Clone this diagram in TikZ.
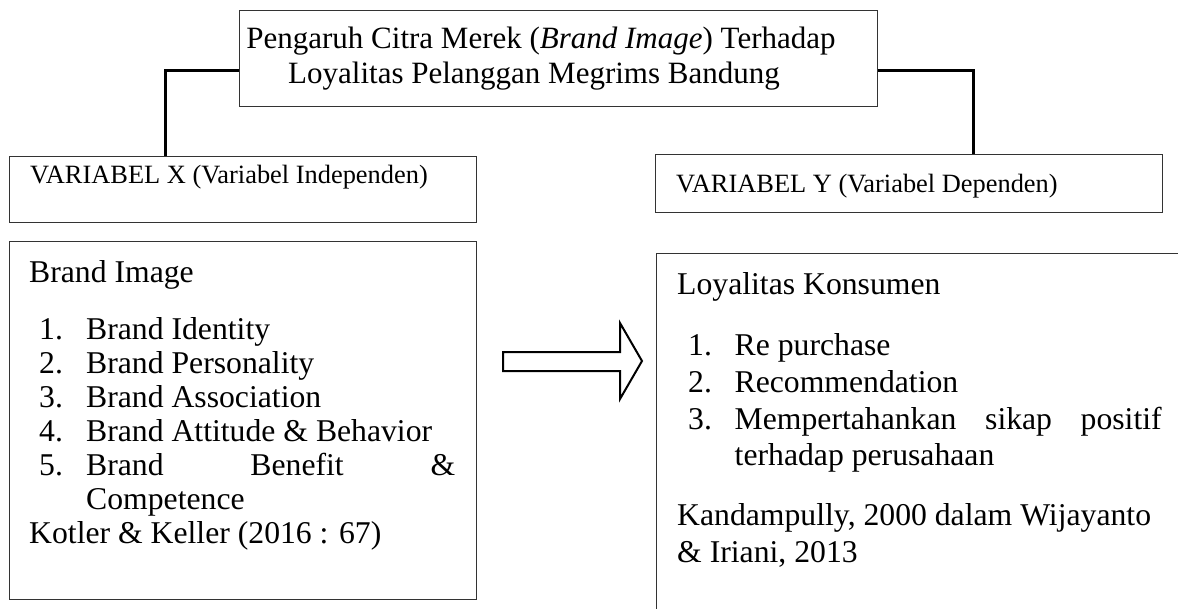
\documentclass[tikz,border=0pt]{standalone}
\usepackage{fontspec}
\setmainfont{Liberation Serif}
\usetikzlibrary{positioning}
\newcommand{\bodyfont}{\fontsize{31.7}{36.4}\selectfont}
\newcommand{\headfont}{\fontsize{31}{36}\selectfont}
\newcommand{\varfont}{\fontsize{26.4}{30}\selectfont}
\tikzset{
  frame/.style={draw=black!80, line width=1.3pt, inner sep=0pt, anchor=north west},
  conn/.style={draw=black, line width=3pt},
  txt/.style={anchor=base west, inner sep=0pt, font=\bodyfont},
  titletxt/.style={anchor=base, inner sep=0pt, font=\headfont},
  vartxt/.style={anchor=base west, inner sep=0pt, font=\varfont},
}

\begin{document}
\begin{tikzpicture}[x=1pt,y=-1pt]
    \useasboundingbox (0,0) rectangle (1178,608);
    \clip (0,0) rectangle (1178,608);

    % Boxes
    \node[frame, minimum width=638pt, minimum height=96pt]  (title) at (239,10)  {};
    \node[frame, minimum width=467pt, minimum height=66pt]  (varx)  at (9,156)   {};
    \node[frame, minimum width=507pt, minimum height=58pt]  (vary)  at (655,154) {};
    \node[frame, minimum width=467pt, minimum height=358pt] (bibox) at (9,241)   {};
    \node[frame, minimum width=560pt, minimum height=400pt] (lkbox) at (656,253) {};

    % Connectors from the title
    \draw[conn] ([yshift=-12pt]title.west) -| ([xshift=-77.5pt]varx.north);
    \draw[conn] ([yshift=-12pt]title.east) -| ([xshift=64.5pt]vary.north);

    % Block arrow
    \draw[black, line width=2pt] (503,352) -- (620,352) -- (620,323) -- (642,361)
        -- (620,399) -- (620,371) -- (503,371) -- cycle;

    % Title text
    \node[titletxt] (titleA) at (541,48) {Pengaruh Citra Merek (\textit{Brand Image}) Terhadap};
    \node[titletxt] (titleB) at (534,83) {Loyalitas Pelanggan Megrims Bandung};

    % Variable labels
    \node[vartxt] (varxtext) at (30,183)  {VARIABEL X (Variabel Independen)};
    \node[vartxt] (varytext) at (676,192) {VARIABEL Y (Variabel Dependen)};

    % Brand Image
    \node[txt] (bihead) at (29,282)  {Brand Image};
    \node[txt] (bi1)    at (39,339)  {\makebox[47pt][l]{1.}Brand Identity};
    \node[txt] (bi2)    at (39,373)  {\makebox[47pt][l]{2.}Brand Personality};
    \node[txt] (bi3)    at (39,407)  {\makebox[47pt][l]{3.}Brand Association};
    \node[txt] (bi4)    at (39,441)  {\makebox[47pt][l]{4.}Brand Attitude \& Behavior};
    \node[txt] (bi5)    at (39,475)  {\makebox[47pt][l]{5.}\makebox[369pt][s]{Brand Benefit \&}};
    \node[txt] (bi5b)   at (86,509)  {Competence};
    \node[txt] (bisrc)  at (29,543)  {Kotler \& Keller (2016 : 67)};

    % Loyalitas Konsumen
    \node[txt] (lkhead) at (677,294)   {Loyalitas Konsumen};
    \node[txt] (lk1)    at (688,355)   {\makebox[46.5pt][l]{1.}Re purchase};
    \node[txt] (lk2)    at (688,392)   {\makebox[46.5pt][l]{2.}Recommendation};
    \node[txt] (lk3)    at (688,429)   {\makebox[46.5pt][l]{3.}\makebox[427pt][s]{Mempertahankan sikap positif}};
    \node[txt] (lk3b)   at (734.5,465) {terhadap perusahaan};
    \node[txt] (lksrcA) at (677,525)   {Kandampully, 2000 dalam Wijayanto};
    \node[txt] (lksrcB) at (677,562)   {\& Iriani, 2013};
\end{tikzpicture}
\end{document}
